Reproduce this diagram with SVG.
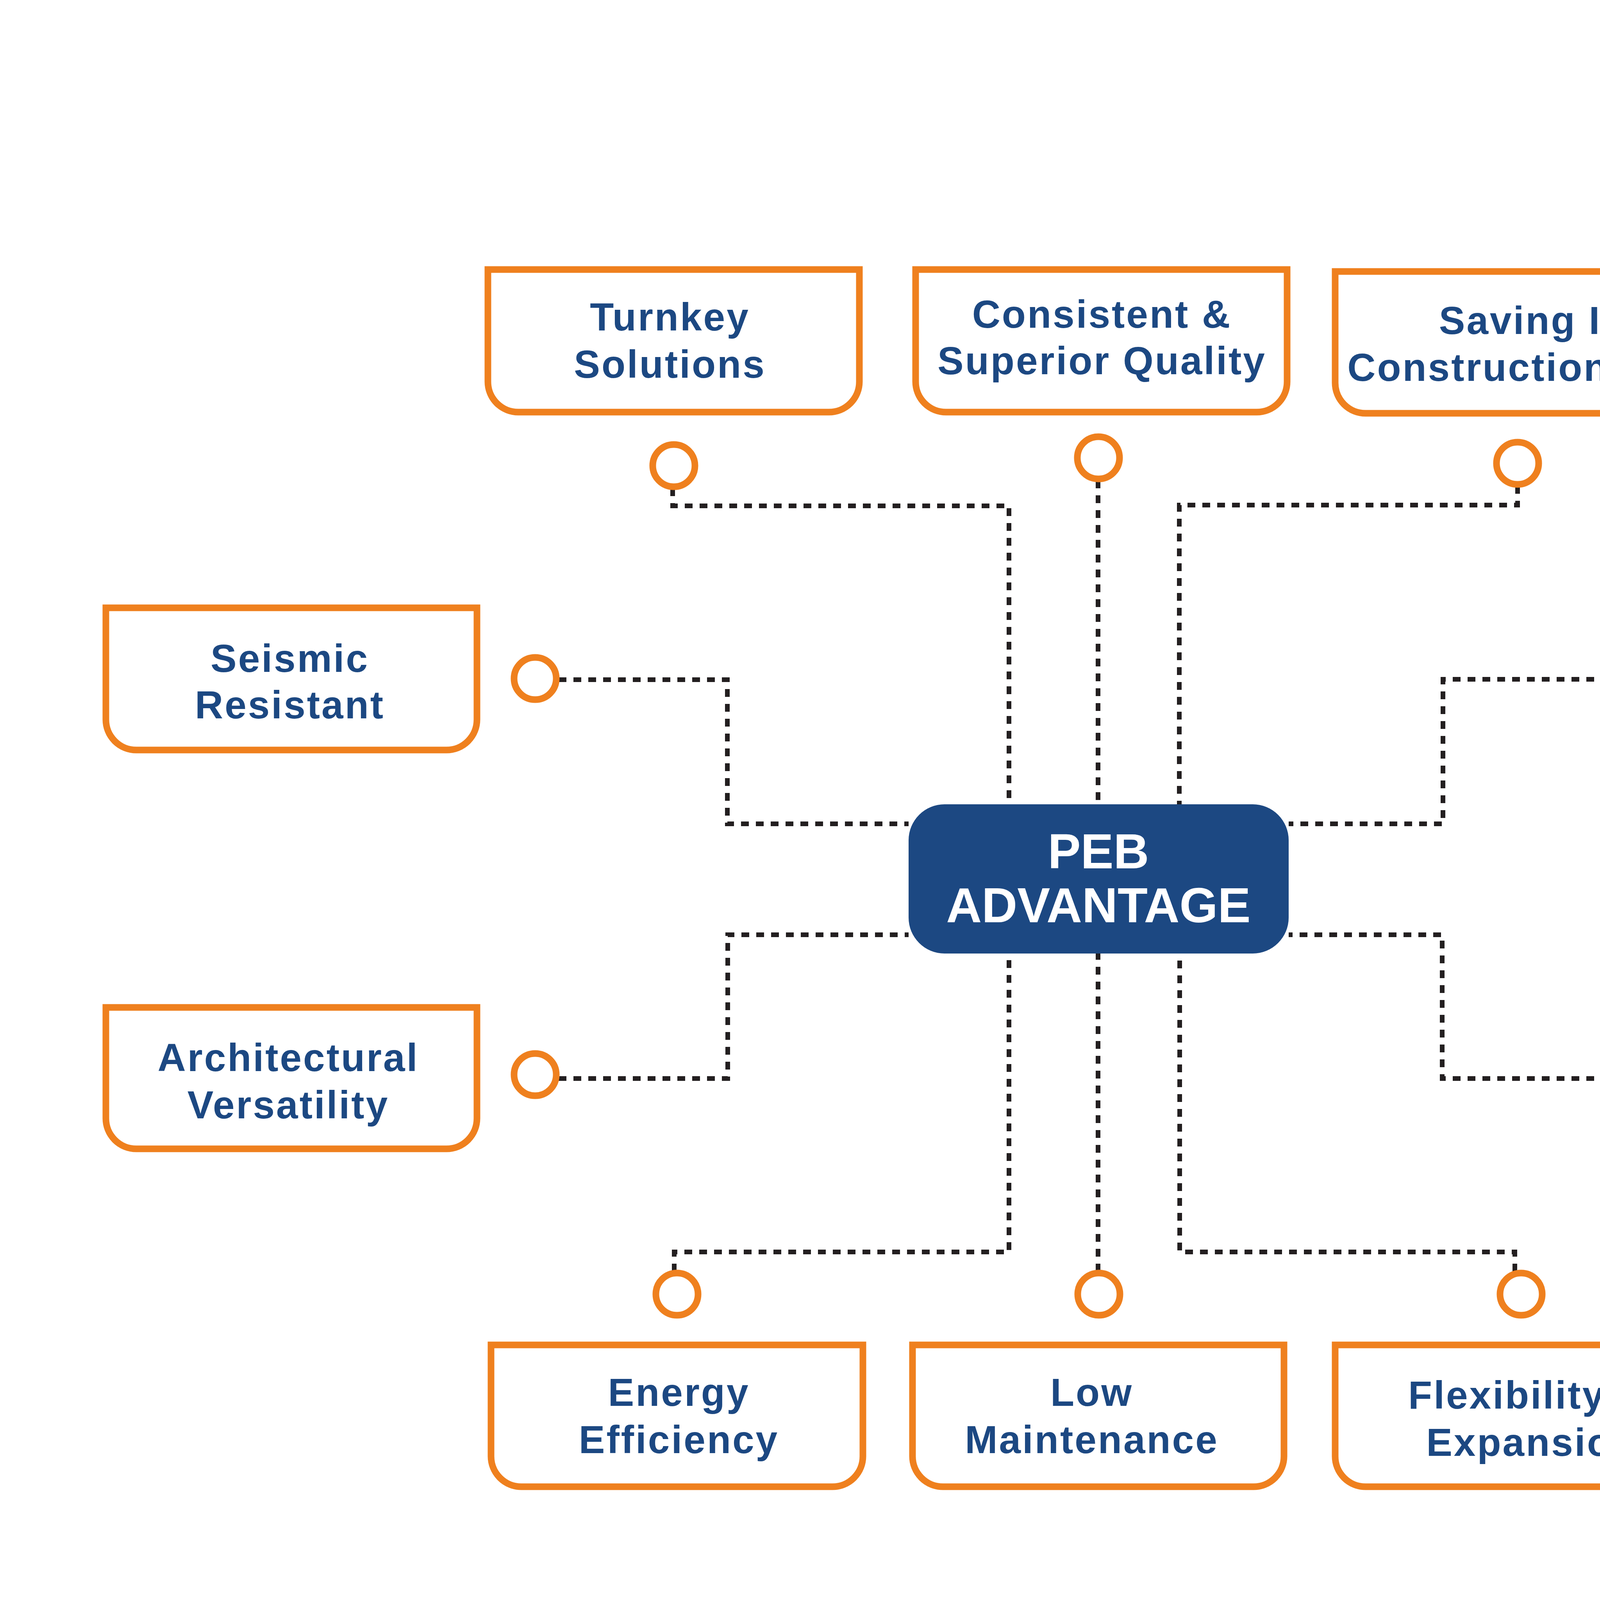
<svg xmlns="http://www.w3.org/2000/svg" width="5625" height="4500" viewBox="0 0 5625 4500">
<style>
.box{fill:#fff;stroke:#EF801E;stroke-width:17;stroke-linejoin:miter}
.dot{fill:#fff;stroke:#EF801E;stroke-width:17}
.lbl{font-family:"Liberation Sans",Arial,sans-serif;font-weight:bold;font-size:100px;letter-spacing:4px;fill:#1C4882;text-anchor:middle}
.alt{fill:#2E3192}
.conn{fill:none;stroke:#231F20;stroke-width:12;stroke-dasharray:20 18}
.ctr{font-family:"Liberation Sans",Arial,sans-serif;font-weight:bold;font-size:126px;fill:#fff;text-anchor:middle}
</style>
<rect width="5625" height="4500" fill="#fff"/>
<g id="connectors">
<path class="conn" d="M1722 1250 V1295 H2583 V2059"/>
<path class="conn" d="M2811 1230 V2059"/>
<path class="conn" d="M3885 1244 V1293 H3019 V2059"/>
<path class="conn" d="M1430 1740 H1862 V2109 H2326"/>
<path class="conn" d="M4195 1739 H3694 V2109 H3299"/>
<path class="conn" d="M1430 2761 H1863 V2393 H2326"/>
<path class="conn" d="M4195 2761 H3692 V2393 H3299"/>
<path class="conn" d="M1726 3255 V3205 H2583 V2441"/>
<path class="conn" d="M2811 3255 V2441"/>
<path class="conn" d="M3878 3255 V3205 H3020 V2441"/>
</g>
<g id="center">
<rect x="2326" y="2059" width="973" height="382" rx="92" ry="92" fill="#1C4882"/>
<text class="ctr" x="2812" y="2223">PEB</text>
<text class="ctr" x="2812" y="2361">ADVANTAGE</text>
</g>
<g id="n1">
<path class="box" d="M1249 690 H2200 V977 A78 78 0 0 1 2122 1055 H1327 A78 78 0 0 1 1249 977 Z"/>
<text class="lbl" x="1715" y="846">Turnkey</text>
<text class="lbl" x="1715" y="967">Solutions</text>
<circle class="dot" cx="1725" cy="1192" r="54"/>
</g>
<g id="n2">
<path class="box" d="M2344 690 H3295 V977 A78 78 0 0 1 3217 1055 H2422 A78 78 0 0 1 2344 977 Z"/>
<text class="lbl" x="2821" y="839">Consistent &amp;</text>
<text class="lbl" x="2821" y="958">Superior Quality</text>
<circle class="dot" cx="2812" cy="1172" r="54"/>
</g>
<g id="n3">
<path class="box" d="M3418 695 H4427 V980 A78 78 0 0 1 4349 1058 H3496 A78 78 0 0 1 3418 980 Z"/>
<text class="lbl" x="3924" y="855">Saving In</text>
<text class="lbl" x="3924" y="975">Construction Time</text>
<circle class="dot" cx="3885" cy="1186" r="54"/>
</g>
<g id="n4">
<path class="box" d="M271 1556 H1221 V1842 A78 78 0 0 1 1143 1920 H349 A78 78 0 0 1 271 1842 Z"/>
<text class="lbl" x="742" y="1720">Seismic</text>
<text class="lbl" x="742" y="1839">Resistant</text>
<circle class="dot" cx="1370" cy="1737" r="54"/>
</g>
<g id="n5">
<path class="box" d="M4378 1594 H5328 V1878 A78 78 0 0 1 5250 1956 H4456 A78 78 0 0 1 4378 1878 Z"/>
<text class="lbl" x="4832" y="1748">Reduction In</text>
<text class="lbl" x="4832" y="1868">Project Cost</text>
<circle class="dot" cx="4255" cy="1738" r="54"/>
</g>
<g id="n6">
<path class="box" d="M271 2579 H1221 V2863 A78 78 0 0 1 1143 2941 H349 A78 78 0 0 1 271 2863 Z"/>
<text class="lbl" x="738" y="2742">Architectural</text>
<text class="lbl" x="738" y="2863">Versatility</text>
<circle class="dot" cx="1370" cy="2751" r="54"/>
</g>
<g id="n7">
<path class="box" d="M4378 2586 H5328 V2870 A78 78 0 0 1 5250 2948 H4456 A78 78 0 0 1 4378 2870 Z"/>
<text class="lbl alt" x="4835" y="2724">Suitable For</text>
<text class="lbl alt" x="4835" y="2845">Varied Projects</text>
<circle class="dot" cx="4255" cy="2742" r="54"/>
</g>
<g id="n8">
<path class="box" d="M1257 3443 H2209 V3728 A78 78 0 0 1 2131 3806 H1335 A78 78 0 0 1 1257 3728 Z"/>
<text class="lbl" x="1738" y="3599">Energy</text>
<text class="lbl" x="1738" y="3720">Efficiency</text>
<circle class="dot" cx="1733" cy="3313" r="54"/>
</g>
<g id="n9">
<path class="box" d="M2336 3443 H3287 V3728 A78 78 0 0 1 3209 3806 H2414 A78 78 0 0 1 2336 3728 Z"/>
<text class="lbl" x="2795" y="3599">Low</text>
<text class="lbl" x="2795" y="3720">Maintenance</text>
<circle class="dot" cx="2813" cy="3313" r="54"/>
</g>
<g id="n10">
<path class="box" d="M3418 3443 H4370 V3728 A78 78 0 0 1 4292 3806 H3496 A78 78 0 0 1 3418 3728 Z"/>
<text class="lbl" x="3922" y="3606">Flexibility In</text>
<text class="lbl" x="3922" y="3727">Expansion</text>
<circle class="dot" cx="3894" cy="3313" r="54"/>
</g>
</svg>
